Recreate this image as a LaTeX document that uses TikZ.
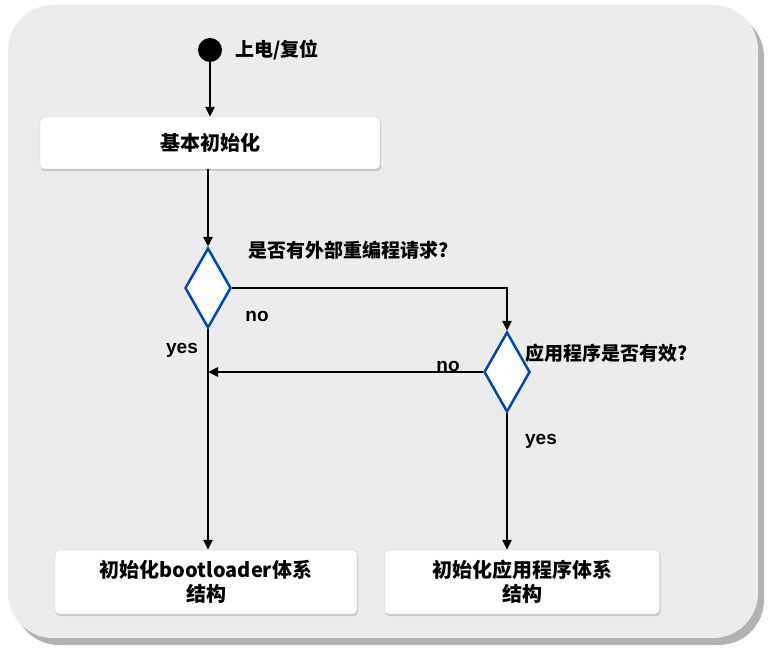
\documentclass[tikz,border=0pt]{standalone}
\usepackage{fontspec}
\setmainfont{Liberation Sans}
\newfontfamily\cjk{Noto Sans CJK SC}
\usetikzlibrary{shapes.geometric,arrows.meta,shadows}
\begin{document}
\begin{tikzpicture}[x=1pt,y=-1pt,
  box/.style={draw=gray!40,fill=white,rounded corners=4pt,drop shadow={shadow xshift=1pt,shadow yshift=-2pt,fill=gray!70},inner sep=0pt,align=center,font=\cjk\fontsize{20}{24}\selectfont},
  dia/.style={diamond,draw=blue!60!cyan!70!black,line width=2.5pt,fill=white,inner sep=0pt,minimum width=45pt,minimum height=80pt,aspect=0.56},
  arr/.style={-{Triangle[length=10pt,width=9pt]},line width=2.5pt},
  lbl/.style={font=\cjk\bfseries\fontsize{19}{22}\selectfont},
  yn/.style={font=\bfseries\fontsize{19}{22}\selectfont}]
\useasboundingbox (0,0) rectangle (778,663);
\fill[gray!60,rounded corners=45pt] (14,12) rectangle (764,645);
\fill[gray!15,rounded corners=45pt] (8,5) rectangle (758,638);
\node[circle,fill=black,minimum size=24pt,inner sep=0pt] (s) at (210,50) {};
\node[lbl,anchor=west] (st) at (232,50) {上电/复位};
\node[box,minimum width=340pt,minimum height=52pt] (b1) at (210,143) {\bfseries 基本初始化};
\node[dia,minimum width=46pt,minimum height=80pt] (d1) at (208,288) {};
\node[dia,minimum width=46pt,minimum height=80pt] (d2) at (507,372) {};
\node[lbl,anchor=west] at (245,250) {是否有外部重编程请求?};
\node[lbl,anchor=west] at (522,353) {应用程序是否有效?};
\node[box,minimum width=302pt,minimum height=64pt] (b2) at (206,582) {\bfseries 初始化bootloader体系\\\bfseries 结构};
\node[box,minimum width=275pt,minimum height=64pt] (b3) at (522,582) {\bfseries 初始化应用程序体系\\\bfseries 结构};
\draw[arr] (s) -- (b1.north -| s);
\draw[arr] (b1.south -| d1) -- (d1.north);
\draw[arr] (d1.south) -- (b2.north -| d1);
\draw[arr] (d1.east) -| (d2.north);
\draw[arr] (d2.west) -- (d1.south |- d2.west);
\draw[arr] (d2.south) -- (b3.north -| d2);
\node[yn] at (257,316) {no};
\node[yn] at (182,350) {yes};
\node[yn] at (448,366) {no};
\node[yn] at (541,441) {yes};
\end{tikzpicture}
\end{document}
